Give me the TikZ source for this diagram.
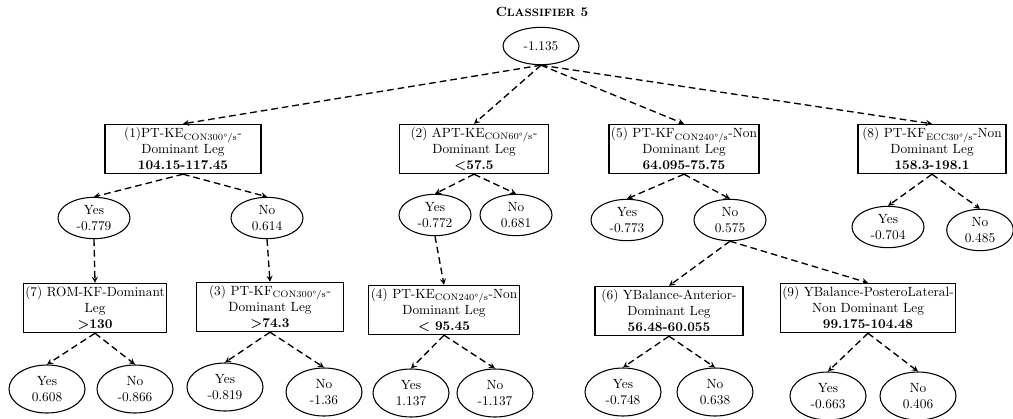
\documentclass[tikz,border=0pt]{standalone}
\usepackage{xcolor}
\usepackage{tikz}
\usetikzlibrary{shapes.geometric, arrows, positioning}

\begin{document}
\begin{tikzpicture}[
    x=0.75pt, y=-0.75pt,
    font=\normalsize,
    split/.style={rectangle, draw, line width=0.8pt, align=center, minimum height=37pt, inner sep=1.5pt},
    leaf/.style={ellipse, draw, line width=0.8pt, align=center, minimum width=57pt, minimum height=36pt, inner sep=0pt},
    mid/.style={leaf, minimum width=54pt, minimum height=31pt},
    arrow/.style={line width=1pt, ->, >=stealth, dash pattern=on 5pt off 3pt}
]
\useasboundingbox (0,0) rectangle (1013,418);

% title and root
\node (title) at (542,12) {\textbf{C{\footnotesize LASSIFIER} 5}};
\node[leaf, minimum width=57pt, minimum height=28pt] (R) at (541,46) {-1.135};

% first level splits
\node[split, minimum width=117pt] (C1) at (183,149) {(1)PT-KE\textsubscript{CON300°/s}-\\Dominant Leg\\\textbf{104.15-117.45}};
\node[split, minimum width=112pt] (C2) at (474,149) {(2) APT-KE\textsubscript{CON60°/s}-\\Dominant Leg\\\textbf{<57.5}};
\node[split, minimum width=112pt] (C5) at (684,149) {(5) PT-KF\textsubscript{CON240°/s}-Non\\Dominant Leg\\\textbf{64.095-75.75}};
\node[split, minimum width=111pt] (C8) at (932,149) {(8) PT-KF\textsubscript{ECC30°/s}-Non\\Dominant Leg\\\textbf{158.3-198.1}};

% answers of the first level
\node[mid] (Y1) at (94,218) {Yes\\-0.779};
\node[mid] (N1) at (267,218) {No\\0.614};
\node[mid] (Y2) at (435,215) {Yes\\-0.772};
\node[mid] (N2) at (516,215) {No\\0.681};
\node[mid] (Y5) at (627,220) {Yes\\-0.773};
\node[mid] (N5) at (730,220) {No\\0.575};
\node[mid] (Y8) at (888,227) {Yes\\-0.704};
\node[mid, minimum width=50pt] (N8) at (980,230) {No\\0.485};

% second level splits
\node[split, minimum width=107pt] (C7) at (95,308) {(7) ROM-KF-Dominant\\Leg\\\textbf{>130}};
\node[split, minimum width=110pt] (C3) at (270,307) {(3) PT-KF\textsubscript{CON300°/s}-\\Dominant Leg\\\textbf{>74.3}};
\node[split, minimum width=110pt] (C4) at (444,310) {(4) PT-KE\textsubscript{CON240°/s}-Non\\Dominant Leg\\\textbf{< 95.45}};
\node[split, minimum width=111pt] (C6) at (669,311) {(6) YBalance-Anterior-\\Dominant Leg\\\textbf{56.48-60.055}};
\node[split, minimum width=129pt] (C9) at (868,308) {(9) YBalance-PosteroLateral-\\Non Dominant Leg\\\textbf{99.175-104.48}};

% leaves
\node[leaf] (Y7) at (47,389) {Yes\\0.608};
\node[leaf] (N7) at (135,389) {No\\-0.866};
\node[leaf] (Y3) at (225,387) {Yes\\-0.819};
\node[leaf] (N3) at (324,392) {No\\-1.36};
\node[leaf] (Y4) at (411,393) {Yes\\1.137};
\node[leaf] (N4) at (495,393) {No\\-1.137};
\node[leaf] (Y6) at (623,392) {Yes\\-0.748};
\node[leaf] (N6) at (715,392) {No\\0.638};
\node[leaf] (Y9) at (828,396) {Yes\\-0.663};
\node[leaf] (N9) at (918,396) {No\\0.406};

% connectors
\draw[arrow] (R.south) -- (C1.north);
\draw[arrow] (R.south) -- (C2.north);
\draw[arrow] (R.south) -- (C5.north);
\draw[arrow] (R.south) -- (C8.north);

\draw[arrow] (C1.south) -- (Y1.north);
\draw[arrow] (C1.south) -- (N1.north);
\draw[arrow] (C2.south) -- (Y2.north);
\draw[arrow] (C2.south) -- (N2.north);
\draw[arrow] (C5.south) -- (Y5.north);
\draw[arrow] (C5.south) -- (N5.north);
\draw[arrow] (C8.south) -- (Y8.north);
\draw[arrow] (C8.south) -- (N8.north);

\draw[arrow] (Y1.south) -- (C7.north);
\draw[arrow] (N1.south) -- (C3.north);
\draw[arrow] (Y2.south) -- (C4.north);
\draw[arrow] (N5.south) -- (C6.north);
\draw[arrow] (N5.south) -- (C9.north);

\draw[arrow] (C7.south) -- (Y7.north);
\draw[arrow] (C7.south) -- (N7.north);
\draw[arrow] (C3.south) -- (Y3.north);
\draw[arrow] (C3.south) -- (N3.north);
\draw[arrow] (C4.south) -- (Y4.north);
\draw[arrow] (C4.south) -- (N4.north);
\draw[arrow] (C6.south) -- (Y6.north);
\draw[arrow] (C6.south) -- (N6.north);
\draw[arrow] (C9.south) -- (Y9.north);
\draw[arrow] (C9.south) -- (N9.north);
\end{tikzpicture}
\end{document}
